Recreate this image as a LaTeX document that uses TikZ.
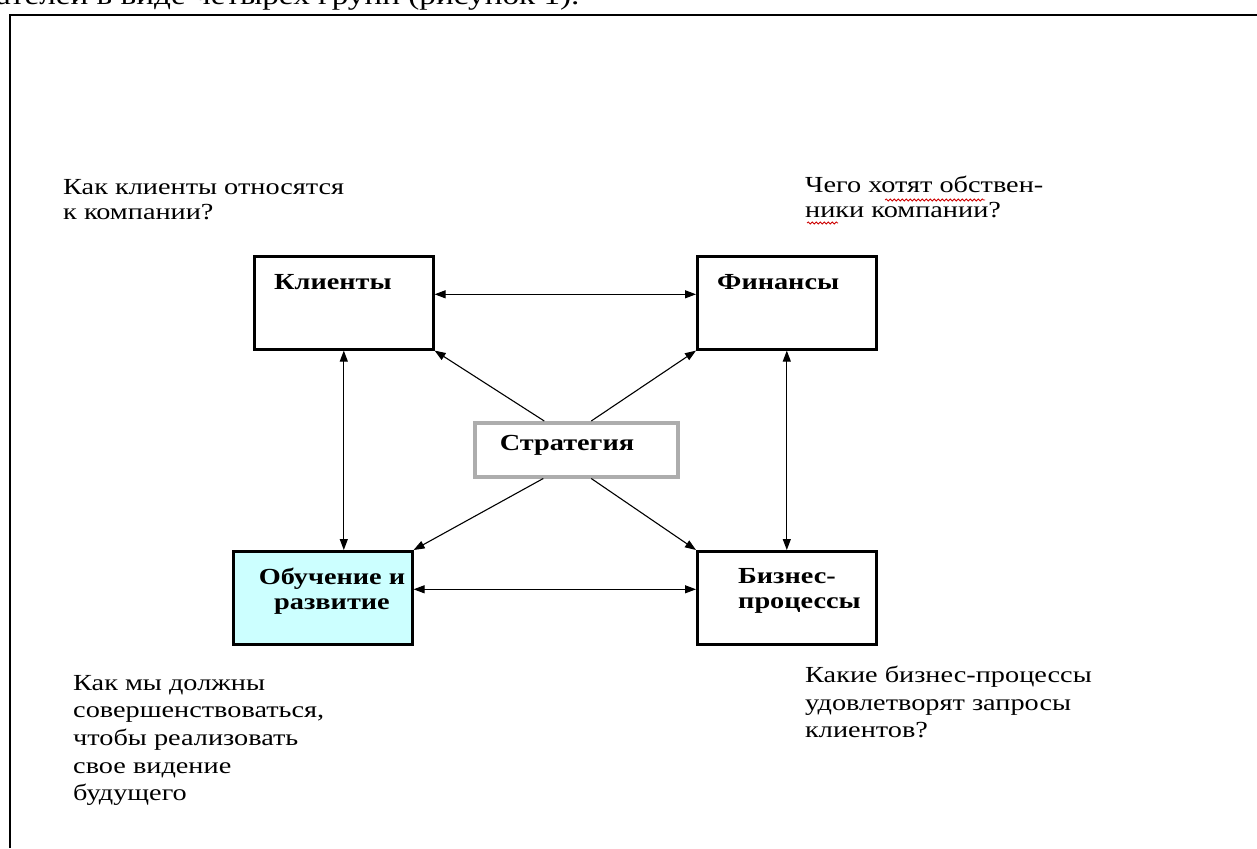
\documentclass[tikz,border=0pt]{standalone}
\usepackage{fontspec}
\setmainfont[FakeStretch=1.23]{Liberation Serif}
\usetikzlibrary{arrows.meta,decorations.pathmorphing}
\definecolor{lightcyan}{RGB}{204,255,255}
\begin{document}
\begin{tikzpicture}[x=1pt,y=-1pt,
  box/.style={draw=black,line width=2.6pt,minimum width=179pt,minimum height=93pt,anchor=north west,inner sep=0pt},
  gbox/.style={draw=black!32,line width=3.5pt,minimum width=203pt,minimum height=54pt,anchor=north west,inner sep=0pt},
  btxt/.style={font=\fontsize{23}{25}\selectfont\bfseries,inner sep=0pt,align=center},
  qtxt/.style={font=\fontsize{23}{25}\selectfont,inner sep=0pt,align=left,anchor=north west},
  qtxtb/.style={qtxt,font=\fontsize{23}{27.6}\selectfont},
  link/.style={line width=1.1pt,{Triangle[length=11pt,width=8pt]}-{Triangle[length=11pt,width=8pt]}},
  slink/.style={line width=1.1pt,-{Triangle[length=11pt,width=8pt]}},
  wavy/.style={draw=red!80!black,line width=0.8pt,decorate,decoration={snake,amplitude=1pt,segment length=4pt}}
]
\useasboundingbox (0,0) rectangle (1257,848);
% cut-off line of text above the frame
\begin{scope}
\clip (0,0) rectangle (1257,13);
\node[anchor=base west,inner sep=0pt,font=\fontsize{27}{29}\selectfont] (top) at (-4,4.5) {ателей в виде четырех групп (рисунок 1).};
\end{scope}
% frame
\draw[line width=2.8pt] (10,848) -- (10,15) -- (1257,15);

% boxes
\node[box] (kl) at (253,255) {};
\node[box] (fin) at (696,255) {};
\node[box,fill=lightcyan] (obu) at (232,550) {};
\node[box] (biz) at (696,550) {};
\node[gbox] (str) at (473,421) {};

% box texts
\node[btxt,anchor=west] (klt) at (274,282) {Клиенты};
\node[btxt,anchor=west] (fint) at (717,282) {Финансы};
\node[btxt] (strt) at (567,445) {Стратегия};
\node[btxt] (obut) at (332,591) {Обучение и\\развитие};
\node[btxt,anchor=west,align=left] (bizt) at (738,591) {Бизнес-\\процессы};

% connectors
\draw[link] ([yshift=8.5pt]kl.east) -- ([yshift=8.5pt]fin.west);
\draw[link] ([yshift=8.5pt]obu.east) -- ([yshift=8.5pt]biz.west);
\draw[link] (kl.south) -- (obu.north -| kl.south);
\draw[link] (fin.south) -- (biz.north);
\draw[slink] ([xshift=-32pt]str.north) -- (kl.south east);
\draw[slink] ([xshift=15pt]str.north) -- (fin.south west);
\draw[slink] ([xshift=-33pt]str.south) -- (obu.north east);
\draw[slink] ([xshift=15pt]str.south) -- (biz.north west);

% questions
\node[qtxt] (q1) at (63,179) {Как клиенты относятся\\к компании?};
\node[qtxt] (q2) at (805,176) {Чего хотят обствен-\\ники компании?};
\node[qtxtb] (q3) at (73,675) {Как мы должны\\совершенствоваться,\\чтобы реализовать\\свое видение\\будущего};
\node[qtxtb] (q4) at (805,666) {Какие бизнес-процессы\\удовлетворят запросы\\клиентов?};

% spell-check underlines
\draw[wavy] (885,200) -- (985,200);
\draw[wavy] (807,223) -- (838,223);
\end{tikzpicture}
\end{document}
